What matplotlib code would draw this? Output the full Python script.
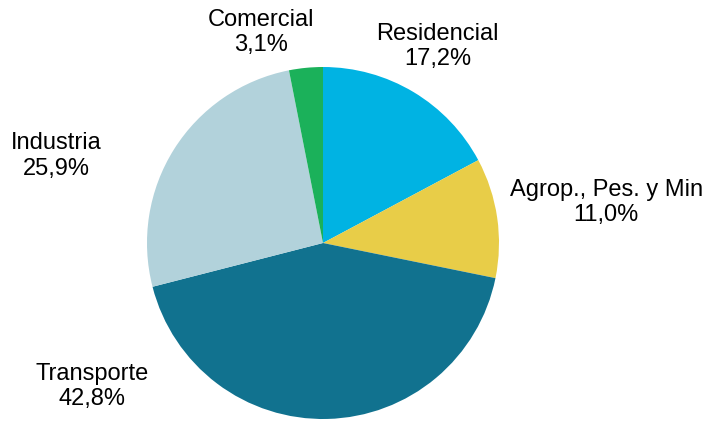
import matplotlib.pyplot as plt

plt.rcParams["font.family"] = ["Liberation Sans", "DejaVu Sans"]

# Energy consumption share by sector (%), clockwise from 12 o'clock
sectors = ["Residencial", "Agrop., Pes. y Min", "Transporte", "Industria", "Comercial"]
shares = [17.2, 11.0, 42.8, 25.9, 3.1]
colors = ["#00B3E3", "#E8CD48", "#11728F", "#B2D2DB", "#1BB15A"]

# label anchor points in data units (pie radius = 1)
label_pos = [(0.65, 1.115), (1.61, 0.23), (-1.31, -0.815), (-1.515, 0.495), (-0.35, 1.195)]

fig = plt.figure(figsize=(7.04, 4.22), dpi=100)
ax = fig.add_axes([147 / 704, 3 / 422, 352 / 704, 352 / 422])

ax.pie(shares, colors=colors, startangle=90, counterclock=False, radius=1.0,
       wedgeprops={"linewidth": 0})

for name, val, (x, y) in zip(sectors, shares, label_pos):
    pct = f"{val:.1f}%".replace(".", ",")
    ax.text(x, y, f"{name}\n{pct}", ha="center", va="center", fontsize=17,
            linespacing=1.2, color="black", clip_on=False)

ax.set_xlim(-1, 1)
ax.set_ylim(-1, 1)
ax.set_aspect("equal")
ax.axis("off")

fig.savefig("out.png", dpi=100)
